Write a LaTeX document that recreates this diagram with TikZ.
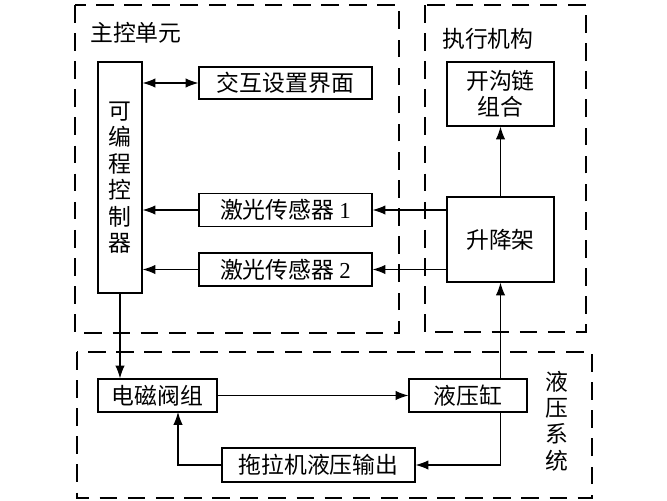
\documentclass[tikz,border=0pt]{standalone}
\usepackage{fontspec}
\setmainfont{Liberation Serif}
\newfontfamily\cjk{Noto Sans CJK SC}
\usetikzlibrary{arrows.meta}

\begin{document}
\begin{tikzpicture}[x=0.03cm, y=-0.03cm,
    blk/.style={draw, line width=1pt, inner sep=0pt, font=\fontsize{19.5}{22.6}\selectfont\cjk, align=center},
    txt/.style={inner sep=0pt, font=\fontsize{19.5}{22.6}\selectfont\cjk, align=center},
    grp/.style={line width=2pt, dash pattern=on 15pt off 9pt},
    conn/.style={line width=0.9pt, -{Latex[length=11pt, width=8pt]}}]
    \useasboundingbox (0,0) rectangle (667,500);

    % grupos punteados
    \draw[grp] (75,5) rectangle (399,333);
    \draw[grp] (425,5) rectangle (586,332);
    \draw[grp] (77,352) rectangle (592,498);

    \node[txt, anchor=west] (lmain) at (90,33) {主控单元};
    \node[txt, anchor=west] (lexec) at (442,39) {执行机构};
    \node[txt] (lhyd) at (557,421) {液\\压\\系\\统};

    \node[blk, minimum width=44*0.03cm, minimum height=231*0.03cm] (plc) at (120,177.5) {可\\编\\程\\控\\制\\器};
    \node[blk, minimum width=173*0.03cm, minimum height=32*0.03cm] (ui) at (285.5,83) {交互设置界面};
    \node[blk, minimum width=173*0.03cm, minimum height=33*0.03cm] (s1) at (285.5,210) {激光传感器 {\rmfamily 1}};
    \node[blk, minimum width=173*0.03cm, minimum height=33*0.03cm] (s2) at (285.5,269.5) {激光传感器 {\rmfamily 2}};

    \node[blk, minimum width=107*0.03cm, minimum height=64*0.03cm] (chain) at (500.5,94) {开沟链\\组合};
    \node[blk, minimum width=107*0.03cm, minimum height=85*0.03cm] (lift) at (500.5,239.5) {升降架};

    \node[blk, minimum width=119*0.03cm, minimum height=33*0.03cm] (valve) at (157.5,395.5) {电磁阀组};
    \node[blk, minimum width=118*0.03cm, minimum height=33*0.03cm] (cyl) at (468,395.5) {液压缸};
    \node[blk, minimum width=193*0.03cm, minimum height=34*0.03cm] (trac) at (318.5,465) {拖拉机液压输出};
    \coordinate (ret) at (178,412);

    \draw[conn, {Latex[length=11pt, width=8pt]}-{Latex[length=11pt, width=8pt]}] (ui.west -| plc.east) -- (ui.west);
    \draw[conn] (s1.west) -- (s1.west -| plc.east);
    \draw[conn] (s2.west) -- (s2.west -| plc.east);
    \draw[conn] (s1.east -| lift.west) -- (s1.east);
    \draw[conn] (s2.east -| lift.west) -- (s2.east);
    \draw[conn] (lift.north) -- (chain.south);
    \draw[conn] (lift.south |- cyl.north) -- (lift.south);
    \draw[conn] (plc.south) -- (plc.south |- valve.north);
    \draw[conn] (valve) -- (cyl);
    \draw[conn] (lift.south |- cyl.south) |- (trac.east);
    \draw[conn] (trac.west) -| (ret);
\end{tikzpicture}
\end{document}
